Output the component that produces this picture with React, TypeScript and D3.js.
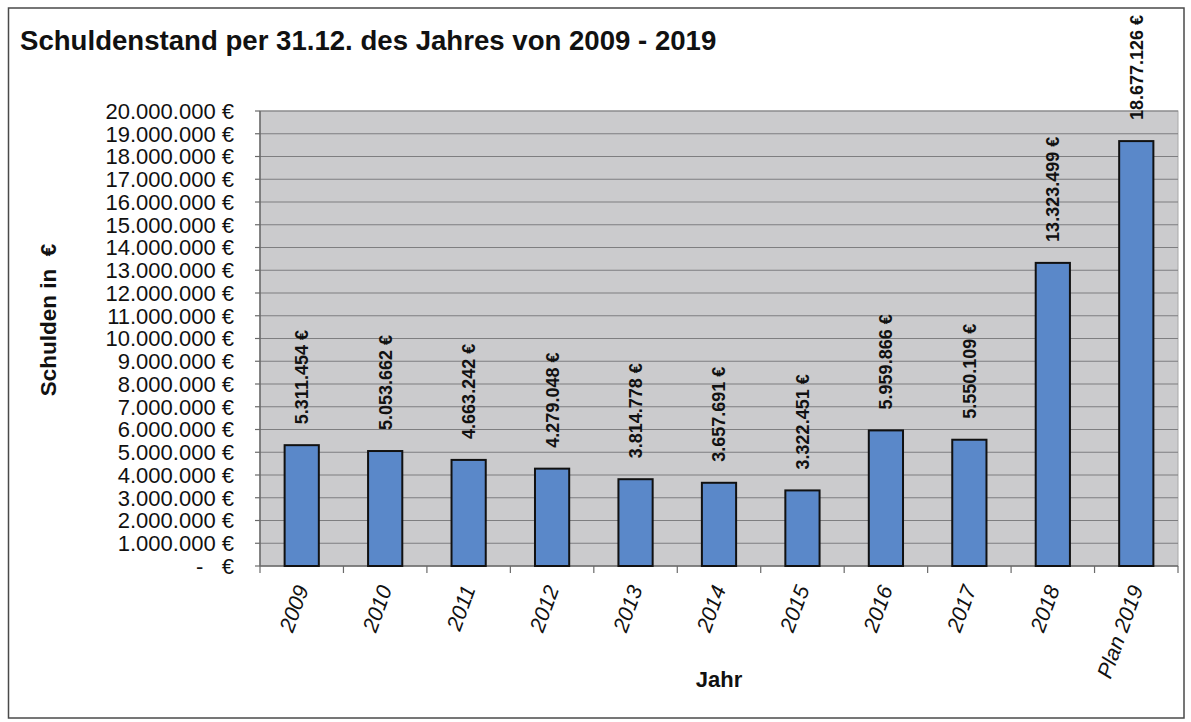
import React from "react";
import * as d3 from "d3";

const categories = ["2009", "2010", "2011", "2012", "2013", "2014", "2015", "2016", "2017", "2018", "Plan 2019"];
const debts = [5311454, 5053662, 4663242, 4279048, 3814778, 3657691, 3322451, 5959866, 5550109, 13323499, 18677126];
const yTicks = [0, 1e6, 2e6, 3e6, 4e6, 5e6, 6e6, 7e6, 8e6, 9e6, 10e6, 11e6, 12e6, 13e6, 14e6, 15e6, 16e6, 17e6, 18e6, 19e6, 20e6];
const title = "Schuldenstand per 31.12. des Jahres von 2009 - 2019";
const yTitle = "Schulden in  €";
const xTitle = "Jahr";

const W = 1191;
const H = 722;
const plot = { left: 260, right: 1178, top: 111, bottom: 566 };

const locale = d3.formatLocale({ decimal: ",", thousands: ".", grouping: [3], currency: ["", " €"] });
const fmt = locale.format(",.0f");
const euro = (v: number) => (v === 0 ? "-   €" : `${fmt(v)} €`);

export default function App() {
  const x = d3.scaleBand<string>().domain(categories).range([plot.left, plot.right]).paddingInner(0.59).paddingOuter(0.295);
  const xOuter = d3.scaleBand<string>().domain(categories).range([plot.left, plot.right]);
  const y = d3.scaleLinear().domain([0, 20e6]).range([plot.bottom, plot.top]);
  const font = "'Liberation Sans', Arial, sans-serif";

  return (
    <svg width={W} height={H} style={{ display: "block", fontFamily: font }}>
      <style>{`body{margin:0}`}</style>
      <rect x={0} y={0} width={W} height={H} fill="#ffffff" />
      <rect x={8.5} y={8} width={1175.5} height={710} fill="none" stroke="#4a4a4a" strokeWidth={1.5} />
      <text x={20} y={50} fontSize={27.6} fontWeight="bold" fill="#111">{title}</text>

      <rect x={plot.left} y={plot.top} width={plot.right - plot.left} height={plot.bottom - plot.top} fill="#cbcbcd" stroke="#a8a8a8" strokeWidth={1} />
      {yTicks.map((t) => (
        <g key={t}>
          {t > 0 && <line x1={plot.left} x2={plot.right} y1={y(t)} y2={y(t)} stroke="#7e7e80" strokeWidth={1.2} />}
          <line x1={plot.left - 5} x2={plot.left} y1={y(t)} y2={y(t)} stroke="#6a6a6a" strokeWidth={1.2} />
          <text x={234} y={y(t)} dy="0.36em" textAnchor="end" fontSize={22} fill="#111" style={{ whiteSpace: "pre" }}>{euro(t)}</text>
        </g>
      ))}
      <line x1={plot.left} x2={plot.left} y1={plot.top} y2={plot.bottom} stroke="#6a6a6a" strokeWidth={1.5} />
      <line x1={plot.left} x2={plot.right} y1={plot.bottom} y2={plot.bottom} stroke="#6a6a6a" strokeWidth={1.5} />
      {categories.map((c) => (
        <line key={"t" + c} x1={xOuter(c) as number} x2={xOuter(c) as number} y1={plot.bottom} y2={plot.bottom + 7} stroke="#6a6a6a" strokeWidth={1.2} />
      ))}
      <line x1={plot.right} x2={plot.right} y1={plot.bottom} y2={plot.bottom + 7} stroke="#6a6a6a" strokeWidth={1.2} />

      {categories.map((c, i) => {
        const bx = x(c) as number;
        const bw = x.bandwidth();
        const cx = bx + bw / 2;
        const top = y(debts[i]);
        return (
          <g key={c}>
            <rect x={bx} y={top} width={bw} height={plot.bottom - top} fill="#5a88c9" stroke="#111" strokeWidth={2} />
            <text transform={`translate(${cx},${top - 21}) rotate(-90)`} dy="0.36em" fontSize={18} fontWeight="bold" fill="#111">{euro(debts[i])}</text>
            <text transform={`translate(${cx},${586}) rotate(-70)`} dy="0.36em" textAnchor="end" fontSize={21.5} fontStyle="italic" fill="#111">{c}</text>
          </g>
        );
      })}

      <text transform={`translate(48,320) rotate(-90)`} dy="0.36em" textAnchor="middle" fontSize={22.5} fontWeight="bold" fill="#111" style={{ whiteSpace: "pre" }}>{yTitle}</text>
      <text x={(plot.left + plot.right) / 2} y={687} textAnchor="middle" fontSize={22} fontWeight="bold" fill="#111">{xTitle}</text>
    </svg>
  );
}
